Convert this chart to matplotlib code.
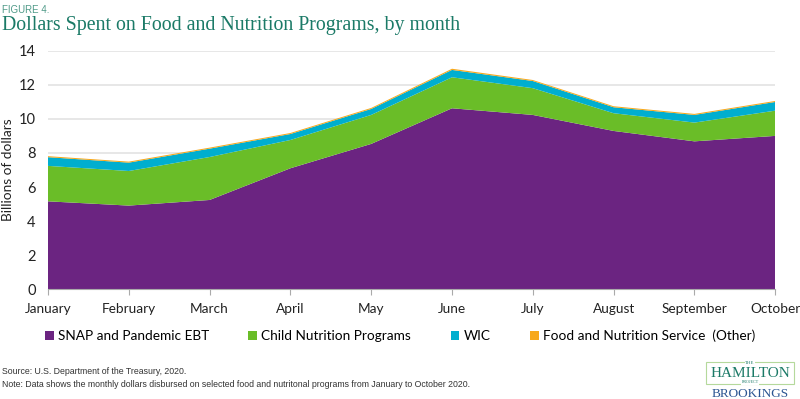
import numpy as np
import matplotlib.pyplot as plt

# data (billions of dollars, stacked)
months = ["January", "February", "March", "April", "May", "June",
          "July", "August", "September", "October"]
snap = [5.16, 4.91, 5.24, 7.10, 8.53, 10.62, 10.23, 9.29, 8.68, 9.00]
child = [2.08, 2.03, 2.52, 1.66, 1.70, 1.82, 1.57, 1.04, 1.10, 1.48]
wic = [0.51, 0.49, 0.49, 0.35, 0.35, 0.43, 0.42, 0.35, 0.45, 0.51]
other = [0.06, 0.06, 0.06, 0.06, 0.06, 0.07, 0.06, 0.06, 0.06, 0.06]

labels = ["SNAP and Pandemic EBT", "Child Nutrition Programs", "WIC",
          "Food and Nutrition Service  (Other)"]
colors = ["#6B2481", "#6ABD28", "#00AECF", "#F7A81B"]

plt.rcParams['font.family'] = ['Lato', 'DejaVu Sans']

fig = plt.figure(figsize=(8, 3.99), dpi=100)
ax = fig.add_axes([0.06, 0.275, 0.909, 0.598])

x = np.arange(len(months))
ax.stackplot(x, snap, child, wic, other, colors=colors, labels=labels, zorder=2)

ax.set_xlim(0, len(months) - 1)
ax.set_ylim(0, 14)
ax.set_yticks(range(0, 15, 2))
ax.set_xticks(x)
ax.set_xticklabels(months, fontsize=9.8, color="#222222")
ax.tick_params(axis='y', length=0, labelsize=10.5, labelcolor="#222222", pad=9)
ax.tick_params(axis='x', length=4, color="#aaaaaa", pad=6)
ax.grid(axis='y', color="#e3e3e3", linewidth=1.2, zorder=0)
for s in ["top", "right", "left"]:
    ax.spines[s].set_visible(False)
ax.spines["bottom"].set_color("#aaaaaa")
ax.set_ylabel("Billions of dollars", fontsize=9.8, color="#222222")
ax.yaxis.set_label_coords(-0.047, 0.5)

# legend
leg = fig.legend(loc="center", bbox_to_anchor=(0.5, 0.158), ncol=4, frameon=False,
                 fontsize=9.8, handlelength=0.65, handleheight=0.65,
                 handletextpad=0.3, columnspacing=2.9)

# titles
fig.text(0.003, 0.975, "FIGURE 4.", fontsize=7, color="#4f9a88",
         family="Liberation Sans", va="center")
fig.text(0.003, 0.935, "Dollars Spent on Food and Nutrition Programs, by month",
         fontsize=14.3, color="#1b7a67", family="Liberation Serif", va="center")

# source / note
fig.text(0.003, 0.07, "Source: U.S. Department of the Treasury, 2020.",
         fontsize=6.3, color="#333333", family="Liberation Sans", va="center")
fig.text(0.003, 0.037, "Note: Data shows the monthly dollars disbursed on selected food and "
         "nutritonal programs from January to October 2020.",
         fontsize=6.3, color="#333333", family="Liberation Sans", va="center")

# logo
lx = 0.9375
fig.text(lx, 0.065, "HAMILTON", fontsize=11, color="#1b7a67", family="Liberation Serif",
         ha="center", va="center",
         bbox=dict(boxstyle="square,pad=0.3", fc="white", ec="#b5d99c", lw=0.8))
fig.text(lx, 0.089, "THE", fontsize=3.5, color="#1b7a67", family="Liberation Serif",
         ha="center", va="center", bbox=dict(fc="white", ec="none", pad=0.5))
fig.text(lx, 0.042, "PROJECT", fontsize=3, color="#1b7a67", family="Liberation Serif",
         ha="center", va="center", bbox=dict(fc="white", ec="none", pad=0.5))
fig.text(lx, 0.012, "BROOKINGS", fontsize=9.5, color="#2b5592", family="Liberation Serif",
         ha="center", va="center")

fig.savefig("out.png", dpi=100)
